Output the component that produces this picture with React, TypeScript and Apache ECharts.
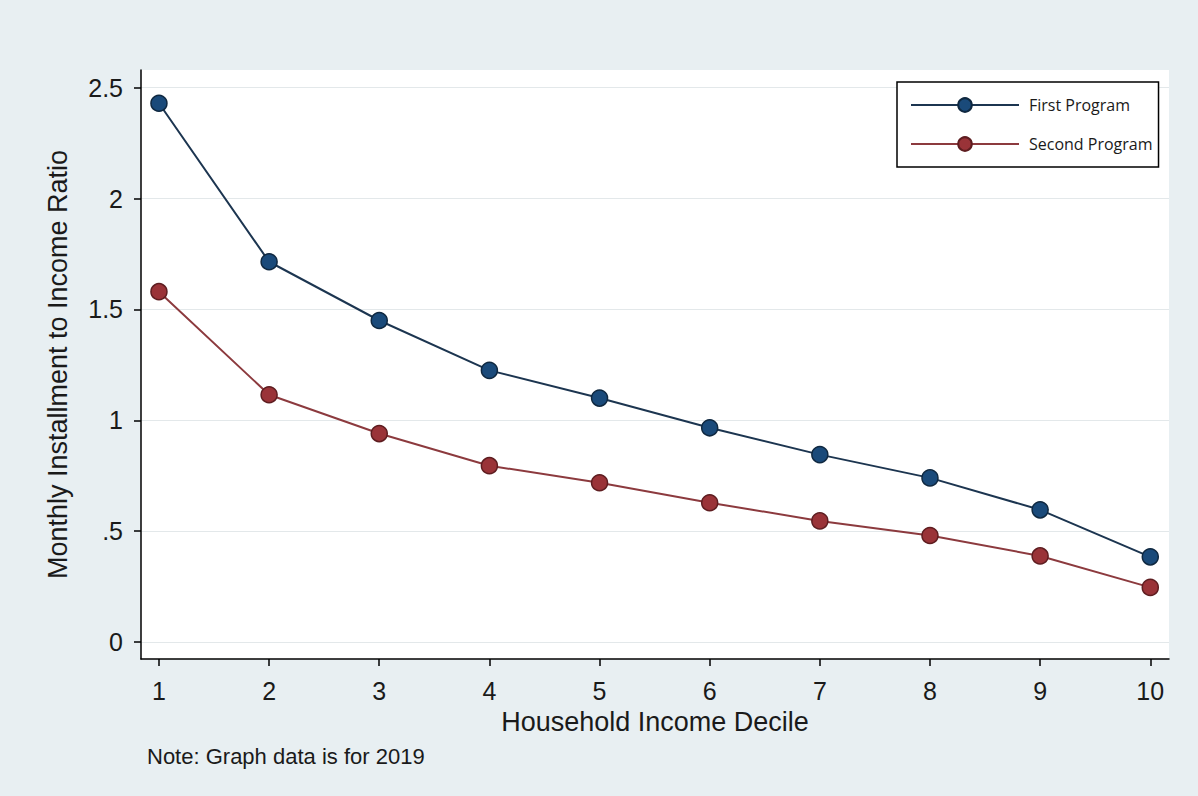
import React, { useEffect, useRef } from "react";
import * as echarts from "echarts";

const deciles = [1, 2, 3, 4, 5, 6, 7, 8, 9, 10];
const firstProgram = [2.43, 1.715, 1.45, 1.225, 1.1, 0.966, 0.845, 0.74, 0.596, 0.384];
const secondProgram = [1.58, 1.115, 0.94, 0.795, 0.718, 0.628, 0.546, 0.48, 0.388, 0.246];
const yTicks = [0, 0.5, 1, 1.5, 2, 2.5];
const xTicks = deciles;

const FONT = "'Liberation Sans', Arial, Helvetica, sans-serif";
const TEXT = "#1a1a1a";

export default function App() {
  const ref = useRef<HTMLDivElement>(null);
  useEffect(() => {
    document.body.style.margin = "0";
    if (!ref.current) return;
    const chart = echarts.init(ref.current, null, { renderer: "svg" });
    const fmtY = (v: number) => (v === 0 ? "0" : v < 1 ? String(v).replace(/^0/, "") : String(v));
    chart.setOption({
      animation: false,
      backgroundColor: "#e8eff2",
      grid: {
        left: 141,
        right: 29,
        top: 70,
        bottom: 137,
        show: true,
        backgroundColor: "#ffffff",
        borderWidth: 0,
      },
      legend: {
        left: 897,
        top: 82,
        orient: "vertical",
        backgroundColor: "#ffffff",
        borderColor: "#000000",
        borderWidth: 1.5,
        borderRadius: 0,
        padding: [15, 6, 15, 13],
        itemWidth: 108,
        itemHeight: 17,
        itemGap: 23,
        textStyle: {
          fontFamily: "'Open Sans', 'Noto Sans', sans-serif",
          fontSize: 16,
          color: TEXT,
          padding: [0, 0, 0, 5],
        },
        data: ["First Program", "Second Program"],
      },
      xAxis: {
        type: "value",
        min: 0.837,
        max: 10.17,
        name: "Household Income Decile",
        nameLocation: "middle",
        nameGap: 49,
        nameTextStyle: { fontFamily: FONT, fontSize: 27, color: TEXT },
        axisLine: { show: true, onZero: false, lineStyle: { color: "#000", width: 1.5 } },
        axisTick: { show: true, inside: false, length: 7, customValues: xTicks, lineStyle: { color: "#000", width: 1.5 } },
        axisLabel: { customValues: xTicks, margin: 19, fontFamily: FONT, fontSize: 25, color: TEXT },
        splitLine: { show: false },
      },
      yAxis: {
        type: "value",
        min: -0.077,
        max: 2.58,
        name: "Monthly Installment to Income Ratio",
        nameLocation: "middle",
        nameGap: 70,
        nameTextStyle: { fontFamily: FONT, fontSize: 27, color: TEXT },
        axisLine: { show: true, onZero: false, lineStyle: { color: "#000", width: 1.5 } },
        axisTick: { show: true, inside: false, length: 7, customValues: yTicks, lineStyle: { color: "#000", width: 1.5 } },
        axisLabel: { customValues: yTicks, margin: 18, fontFamily: FONT, fontSize: 25, color: TEXT, formatter: fmtY },
        splitLine: { show: true, lineStyle: { color: "#e3e8ea", width: 1.2 } },
      },
      graphic: [
        {
          type: "text",
          left: 147,
          top: 745,
          style: { text: "Note: Graph data is for 2019", fontFamily: FONT, fontSize: 22, fill: TEXT },
        },
      ],
      series: [
        {
          name: "First Program",
          type: "line",
          data: deciles.map((d, i) => [d, firstProgram[i]]),
          symbol: "circle",
          symbolSize: 16,
          lineStyle: { color: "#1c3550", width: 2 },
          itemStyle: { color: "#1a4a7a", borderColor: "#0f2840", borderWidth: 1.5 },
          z: 3,
        },
        {
          name: "Second Program",
          type: "line",
          data: deciles.map((d, i) => [d, secondProgram[i]]),
          symbol: "circle",
          symbolSize: 16,
          lineStyle: { color: "#8c3a3e", width: 2 },
          itemStyle: { color: "#9a3338", borderColor: "#5e1d20", borderWidth: 1.5 },
          z: 2,
        },
      ],
    });
    return () => chart.dispose();
  }, []);
  return <div ref={ref} style={{ width: 1198, height: 796 }} />;
}
